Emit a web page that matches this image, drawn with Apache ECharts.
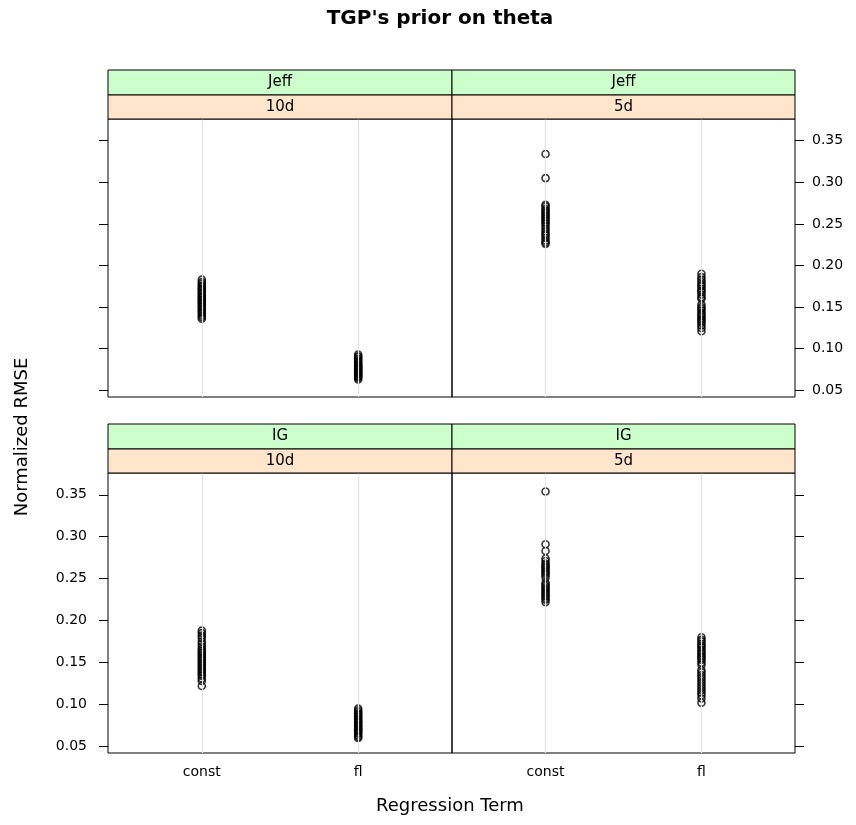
<!DOCTYPE html>
<html>
<head>
<meta charset="utf-8">
<script src="https://cdn.jsdelivr.net/npm/echarts@6/dist/echarts.min.js"></script>
<style>
  html, body { margin: 0; padding: 0; background: #ffffff; }
  #chart { width: 856px; height: 825px; }
</style>
</head>
<body>
<div id="chart"></div>
<script>
// Regression terms on the x axis and the y tick values
const terms = ['const', 'fl'];
const yTicks = [0.05, 0.10, 0.15, 0.20, 0.25, 0.30, 0.35];

// Panel conditioning labels (outer strip: prior, inner strip: dimension)
const priors = ['Jeff', 'Jeff', 'IG', 'IG'];
const dims = ['10d', '5d', '10d', '5d'];

// Normalized RMSE per replicate
const jeff10dConst = [0.183, 0.180, 0.178, 0.176, 0.174, 0.172, 0.171, 0.169, 0.167, 0.166, 0.164, 0.162, 0.161, 0.159, 0.158, 0.156, 0.155, 0.153, 0.151, 0.150, 0.148, 0.146, 0.144, 0.142, 0.140, 0.138, 0.136];
const jeff10dFl = [0.093, 0.091, 0.090, 0.088, 0.087, 0.085, 0.084, 0.083, 0.081, 0.080, 0.079, 0.078, 0.077, 0.076, 0.075, 0.074, 0.073, 0.072, 0.071, 0.070, 0.069, 0.068, 0.067, 0.066, 0.065, 0.063];
const jeff5dConst = [0.334, 0.305, 0.273, 0.271, 0.268, 0.266, 0.264, 0.262, 0.260, 0.258, 0.256, 0.254, 0.252, 0.250, 0.247, 0.244, 0.241, 0.238, 0.236, 0.233, 0.230, 0.228, 0.226];
const jeff5dFl = [0.190, 0.186, 0.183, 0.180, 0.177, 0.175, 0.172, 0.170, 0.168, 0.165, 0.162, 0.160, 0.153, 0.150, 0.148, 0.146, 0.143, 0.141, 0.139, 0.137, 0.135, 0.133, 0.131, 0.128, 0.125, 0.121];
const ig10dConst = [0.188, 0.185, 0.182, 0.179, 0.175, 0.172, 0.169, 0.166, 0.164, 0.162, 0.160, 0.158, 0.156, 0.154, 0.152, 0.150, 0.148, 0.146, 0.144, 0.142, 0.140, 0.138, 0.136, 0.134, 0.131, 0.128, 0.122];
const ig10dFl = [0.095, 0.093, 0.091, 0.089, 0.088, 0.086, 0.085, 0.083, 0.082, 0.080, 0.079, 0.078, 0.076, 0.075, 0.074, 0.073, 0.071, 0.070, 0.069, 0.068, 0.066, 0.065, 0.063, 0.061, 0.060];
const ig5dConst = [0.354, 0.291, 0.283, 0.274, 0.271, 0.268, 0.266, 0.264, 0.262, 0.260, 0.258, 0.256, 0.254, 0.251, 0.245, 0.243, 0.241, 0.239, 0.237, 0.235, 0.233, 0.231, 0.229, 0.227, 0.225, 0.222];
const ig5dFl = [0.180, 0.177, 0.175, 0.172, 0.170, 0.168, 0.165, 0.163, 0.161, 0.159, 0.157, 0.155, 0.153, 0.150, 0.147, 0.141, 0.138, 0.135, 0.132, 0.129, 0.126, 0.123, 0.120, 0.117, 0.114, 0.111, 0.107, 0.102];

// Panels in drawing order: top-left, top-right, bottom-left, bottom-right
const panelData = [
  [jeff10dConst, jeff10dFl],
  [jeff5dConst, jeff5dFl],
  [ig10dConst, ig10dFl],
  [ig5dConst, ig5dFl]
];

const FONT = 'DejaVu Sans';
const grids = [
  { left: 108, top: 119, width: 344, height: 278 },
  { left: 452, top: 119, width: 343, height: 278 },
  { left: 108, top: 473, width: 344, height: 280 },
  { left: 452, top: 473, width: 343, height: 280 }
];
// which side carries y ticks / labels in each panel (alternating)
const ySide = ['left', 'right', 'left', 'right'];
const yLabels = [false, true, true, false];
const xLabels = [false, false, true, true];

const chart = echarts.init(document.getElementById('chart'), null, { renderer: 'canvas' });

const xAxes = grids.map((g, i) => ({
  type: 'value', gridIndex: i, min: 0.4, max: 2.6,
  axisLine: { show: false },
  splitLine: { show: false },
  axisTick: { show: false },
  axisLabel: {
    show: xLabels[i], customValues: [1, 2], margin: 12,
    color: '#000', fontFamily: FONT, fontSize: 14,
    formatter: v => terms[Math.round(v) - 1] || ''
  }
}));

const yAxes = grids.map((g, i) => ({
  type: 'value', gridIndex: i, min: 0.042, max: 0.376, position: ySide[i],
  axisLine: { show: false },
  splitLine: { show: false },
  axisTick: { show: true, customValues: yTicks, length: 9, lineStyle: { color: '#000', width: 1 } },
  axisLabel: {
    show: yLabels[i], customValues: yTicks, margin: ySide[i] === 'left' ? 21 : 17,
    color: '#000', fontFamily: FONT, fontSize: 14,
    formatter: v => v.toFixed(2)
  }
}));

const series = [];
panelData.forEach((cols, i) => {
  // light reference lines at each regression term
  series.push({
    type: 'scatter', xAxisIndex: i, yAxisIndex: i, data: [], z: 1, silent: true,
    markLine: {
      silent: true, symbol: 'none', animation: false,
      label: { show: false },
      lineStyle: { color: '#e3e3e3', type: 'solid', width: 1.2 },
      data: [{ xAxis: 1 }, { xAxis: 2 }]
    }
  });
  const pts = [];
  cols.forEach((vals, t) => vals.forEach(v => pts.push([t + 1, v])));
  series.push({
    type: 'scatter', xAxisIndex: i, yAxisIndex: i, z: 3, data: pts,
    symbol: 'circle', symbolSize: 7,
    itemStyle: { color: 'rgba(0,0,0,0)', borderColor: '#000', borderWidth: 1.6 },
    animation: false
  });
});

// strips above each panel
const graphics = [];
grids.forEach((g, i) => {
  const outerTop = g.top - 49, innerTop = g.top - 24;
  graphics.push({
    type: 'rect', shape: { x: g.left, y: outerTop, width: g.width, height: 25 },
    style: { fill: '#ccffcc', stroke: '#000', lineWidth: 1 }, z: 10
  });
  graphics.push({
    type: 'rect', shape: { x: g.left, y: innerTop, width: g.width, height: 24 },
    style: { fill: '#ffe5cc', stroke: '#000', lineWidth: 1 }, z: 10
  });
  graphics.push({
    type: 'text', x: g.left + g.width / 2, y: outerTop + 12.5, z: 11,
    style: { text: priors[i], fill: '#000', font: '15px "' + FONT + '"', align: 'center', verticalAlign: 'middle' }
  });
  graphics.push({
    type: 'text', x: g.left + g.width / 2, y: innerTop + 12, z: 11,
    style: { text: dims[i], fill: '#000', font: '15px "' + FONT + '"', align: 'center', verticalAlign: 'middle' }
  });
});
graphics.push({
  type: 'text', x: 440, y: 19, z: 11,
  style: { text: "TGP's prior on theta", fill: '#000', font: 'bold 20px "' + FONT + '"', align: 'center', verticalAlign: 'middle' }
});
graphics.push({
  type: 'text', x: 450, y: 806, z: 11,
  style: { text: 'Regression Term', fill: '#000', font: '18px "' + FONT + '"', align: 'center', verticalAlign: 'middle' }
});
graphics.push({
  type: 'text', x: 22, y: 437, rotation: Math.PI / 2, z: 11,
  style: { text: 'Normalized RMSE', fill: '#000', font: '18px "' + FONT + '"', align: 'center', verticalAlign: 'middle' }
});

chart.setOption({
  animation: false,
  backgroundColor: '#ffffff',
  grid: grids.map(g => Object.assign({ show: true, borderColor: '#000', borderWidth: 1, backgroundColor: 'transparent', containLabel: false }, g)),
  xAxis: xAxes,
  yAxis: yAxes,
  series: series,
  graphic: graphics
});
</script>
</body>
</html>
